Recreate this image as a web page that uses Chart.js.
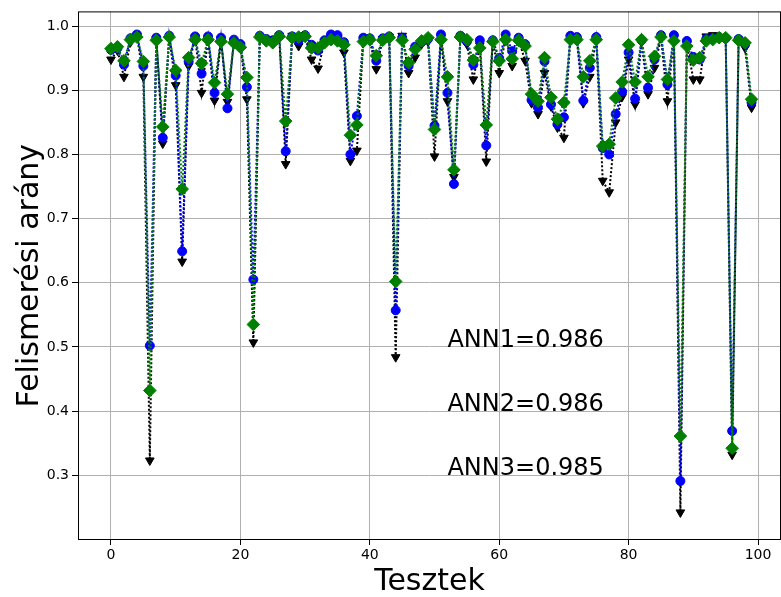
<!DOCTYPE html>
<html>
<head>
<meta charset="utf-8">
<script src="https://cdn.jsdelivr.net/npm/chart.js@4.4.1/dist/chart.umd.min.js"></script>
<style>
  body { margin: 0; background: #fff; }
  canvas { display: block; }
</style>
</head>
<body>
<canvas id="myChart" width="781" height="597"></canvas>
<script>
// tests 0..99
var tests = Array.from({length: 100}, (v, i) => i);

var ann3 = [0.965,0.968,0.946,0.979,0.983,0.945,0.432,0.978,0.843,0.983,
            0.931,0.746,0.951,0.979,0.942,0.979,0.912,0.976,0.894,0.974,
            0.967,0.920,0.535,0.983,0.977,0.974,0.984,0.852,0.982,0.983,
            0.984,0.966,0.966,0.974,0.979,0.977,0.971,0.830,0.846,0.976,
            0.979,0.954,0.978,0.982,0.602,0.978,0.943,0.964,0.977,0.982,
            0.839,0.979,0.921,0.776,0.983,0.979,0.947,0.966,0.846,0.976,
            0.946,0.979,0.949,0.978,0.969,0.894,0.883,0.951,0.889,0.855,
            0.881,0.979,0.979,0.921,0.946,0.979,0.813,0.816,0.888,0.913,
            0.971,0.913,0.979,0.921,0.953,0.983,0.917,0.977,0.361,0.969,
            0.947,0.951,0.977,0.979,0.982,0.982,0.342,0.978,0.974,0.886];

var ann2 = [0.963,0.966,0.940,0.981,0.987,0.938,0.502,0.982,0.826,0.985,
            0.923,0.649,0.945,0.984,0.926,0.984,0.896,0.982,0.872,0.979,
            0.972,0.905,0.605,0.985,0.980,0.978,0.986,0.805,0.984,0.978,
            0.986,0.971,0.962,0.978,0.987,0.986,0.975,0.800,0.860,0.982,
            0.981,0.946,0.981,0.984,0.557,0.982,0.938,0.968,0.975,0.980,
            0.845,0.987,0.896,0.754,0.985,0.976,0.940,0.978,0.814,0.978,
            0.950,0.987,0.961,0.982,0.972,0.885,0.873,0.945,0.878,0.847,
            0.858,0.985,0.983,0.884,0.935,0.983,0.810,0.800,0.863,0.898,
            0.959,0.887,0.978,0.904,0.948,0.986,0.909,0.986,0.291,0.977,
            0.952,0.948,0.980,0.981,0.983,0.981,0.369,0.980,0.972,0.881];

var ann1 = [0.948,0.962,0.921,0.975,0.985,0.921,0.323,0.980,0.817,0.982,
            0.908,0.633,0.938,0.982,0.896,0.980,0.884,0.979,0.882,0.976,
            0.970,0.886,0.507,0.982,0.978,0.976,0.985,0.785,0.985,0.969,
            0.983,0.948,0.934,0.975,0.982,0.980,0.959,0.790,0.806,0.978,
            0.977,0.933,0.980,0.983,0.484,0.985,0.927,0.951,0.972,0.976,
            0.797,0.982,0.883,0.765,0.984,0.972,0.917,0.970,0.789,0.975,
            0.927,0.983,0.938,0.979,0.946,0.880,0.863,0.927,0.875,0.842,
            0.826,0.982,0.978,0.880,0.921,0.980,0.759,0.741,0.850,0.890,
            0.948,0.878,0.975,0.894,0.935,0.982,0.883,0.982,0.242,0.972,
            0.917,0.917,0.984,0.986,0.981,0.979,0.332,0.979,0.966,0.873];

var xTicks = [0, 20, 40, 60, 80, 100];
var yTicks = [0.3, 0.4, 0.5, 0.6, 0.7, 0.8, 0.9, 1.0];
var notes = ['ANN1=0.986', 'ANN2=0.986', 'ANN3=0.985'];
var noteY = [0.5, 0.4, 0.3];

function pts(arr) {
  return arr.map((v, i) => ({x: tests[i], y: v}));
}

var frameAndText = {
  id: 'frameAndText',
  afterDatasetsDraw: function(chart) {
    var c = chart.ctx, a = chart.chartArea;
    c.save();
    c.strokeStyle = '#000';
    c.lineWidth = 1;
    c.strokeRect(a.left + 0.5, a.top + 0.5, a.right - a.left - 1, a.bottom - a.top - 1);
    c.fillStyle = '#000';
    c.font = '24px "DejaVu Sans"';
    c.textBaseline = 'alphabetic';
    for (var i = 0; i < notes.length; i++) {
      c.fillText(notes[i], chart.scales.x.getPixelForValue(52), chart.scales.y.getPixelForValue(noteY[i]));
    }
    c.restore();
  }
};

function series(label, arr, color, style, rot, r) {
  return {
    label: label,
    data: pts(arr),
    borderColor: color,
    backgroundColor: color,
    borderWidth: 2,
    borderDash: [2, 2],
    pointStyle: style,
    pointRotation: rot,
    pointRadius: r,
    pointBorderWidth: 1,
    pointBorderColor: color,
    pointBackgroundColor: color,
    tension: 0
  };
}

var ctx = document.getElementById("myChart");
var config = {
  type: 'line',
  data: {
    datasets: [
      series('ANN3', ann3, '#008000', 'rectRot', 0, 6.3),
      series('ANN2', ann2, '#0000ff', 'circle', 0, 4.5),
      series('ANN1', ann1, '#000000', 'triangle', 180, 5)
    ]
  },
  options: {
    responsive: false,
    animation: false,
    layout: { autoPadding: false, padding: { top: 10, right: 0, left: 0, bottom: 0 } },
    plugins: { legend: { display: false }, tooltip: { enabled: false } },
    scales: {
      x: {
        type: 'linear', min: -5.1, max: 103.55,
        afterBuildTicks: function(s) { s.ticks = xTicks.map(v => ({value: v})); },
        afterFit: function(s) { s.height = 57; s.paddingRight = 0; },
        border: { display: false },
        grid: { color: '#b0b0b0', lineWidth: 1, tickLength: 5, tickColor: '#000' },
        ticks: { font: { family: 'DejaVu Sans', size: 14 }, color: '#000', padding: 2, maxRotation: 0 },
        title: { display: true, text: 'Tesztek', color: '#000',
                 font: { family: 'DejaVu Sans', size: 30, lineHeight: 1 }, padding: 0 }
      },
      y: {
        type: 'linear', min: 0.199, max: 1.023,
        afterBuildTicks: function(s) { s.ticks = yTicks.map(v => ({value: v})); },
        afterFit: function(s) { s.width = 78; },
        border: { display: false },
        grid: { color: '#b0b0b0', lineWidth: 1, tickLength: 6, tickColor: '#000' },
        ticks: { font: { family: 'DejaVu Sans', size: 14 }, color: '#000', padding: 3,
                 callback: function(v) { return v.toFixed(1); } },
        title: { display: true, text: 'Felismerési arány', color: '#000',
                 font: { family: 'DejaVu Sans', size: 30, lineHeight: 1 }, padding: { top: 15, bottom: 0 } }
      }
    }
  },
  plugins: [frameAndText]
};
var myChart = new Chart(ctx, config);
</script>
</body>
</html>
